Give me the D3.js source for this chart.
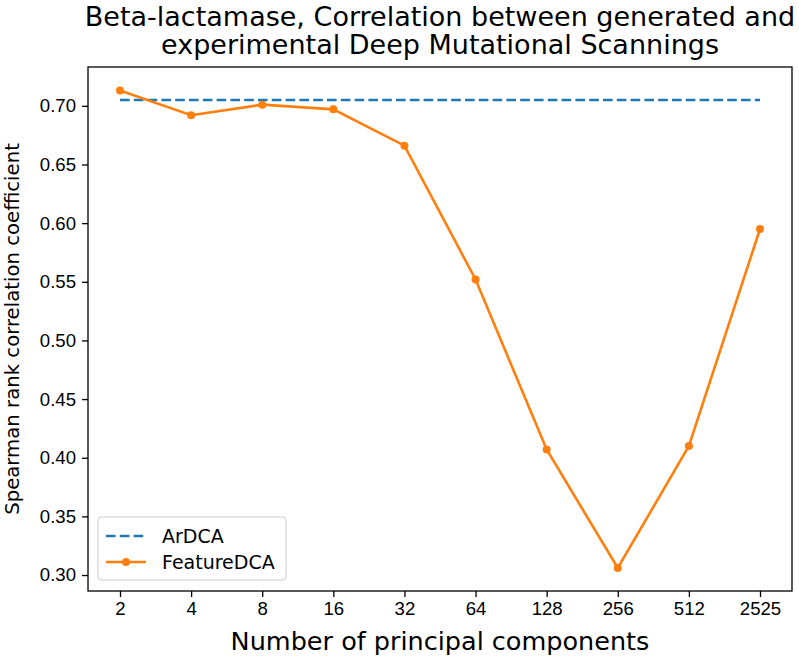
<!DOCTYPE html>
<html>
  <head>
    <meta charset="utf-8">
    <title>Beta-lactamase correlation</title>
    <script src="https://cdn.jsdelivr.net/npm/d3@7"></script>
    <style>
      body { margin: 0; background: #fff; }
      svg { font-family: "DejaVu Sans", sans-serif; }
      .tick text { font-size: 18.6px; fill: #000; }
    </style>
  </head>
  <body>
    <svg width="799" height="663"></svg>
    <script>
      // data
      var components = ["2", "4", "8", "16", "32", "64", "128", "256", "512", "2525"];
      var featureDCA = [0.713, 0.692, 0.701, 0.697, 0.666, 0.552, 0.407, 0.306, 0.410, 0.595];
      var arDCA = 0.705;
      var yTicks = [0.30, 0.35, 0.40, 0.45, 0.50, 0.55, 0.60, 0.65, 0.70];

      var svg = d3.select("svg");
      var m = { left: 88, right: 792, top: 67, bottom: 591 };

      var x = d3.scaleLinear().domain([-0.45, components.length - 1 + 0.45]).range([m.left, m.right]);
      var y = d3.scaleLinear().domain([0.2864, 0.7331]).range([m.bottom, m.top]);

      var xAxis = d3.axisBottom(x)
          .tickValues(d3.range(components.length))
          .tickFormat(function(i) { return components[i]; })
          .tickSize(6).tickPadding(5);
      svg.append("g")
          .attr("transform", "translate(0," + m.bottom + ")")
          .call(xAxis)
          .call(function(g) { g.select(".domain").remove(); });

      var yAxis = d3.axisLeft(y)
          .tickValues(yTicks)
          .tickFormat(d3.format(".2f"))
          .tickSize(6).tickPadding(6);
      svg.append("g")
          .attr("transform", "translate(" + m.left + ",0)")
          .call(yAxis)
          .call(function(g) { g.select(".domain").remove(); });

      svg.selectAll(".tick line").attr("stroke", "#000").attr("stroke-width", 1.3);

      // ArDCA reference line
      svg.append("line")
          .attr("x1", x(0)).attr("x2", x(components.length - 1))
          .attr("y1", y(arDCA)).attr("y2", y(arDCA))
          .attr("stroke", "#1f77b4")
          .attr("stroke-width", 2.6)
          .attr("stroke-dasharray", "9.6,4.2");

      var line = d3.line()
          .x(function(d, i) { return x(i); })
          .y(function(d) { return y(d); });

      svg.append("path")
          .datum(featureDCA)
          .attr("d", line)
          .attr("fill", "none")
          .attr("stroke", "#ff7f0e")
          .attr("stroke-width", 2.6);

      svg.append("g").selectAll("circle")
          .data(featureDCA)
          .enter().append("circle")
            .attr("cx", function(d, i) { return x(i); })
            .attr("cy", function(d) { return y(d); })
            .attr("r", 4)
            .attr("fill", "#ff7f0e");

      // frame
      svg.append("rect")
          .attr("x", m.left).attr("y", m.top)
          .attr("width", m.right - m.left).attr("height", m.bottom - m.top)
          .attr("fill", "none").attr("stroke", "#000").attr("stroke-width", 1.3);

      // legend
      var lg = svg.append("g").attr("transform", "translate(98,517)");
      lg.append("rect")
          .attr("width", 188).attr("height", 63).attr("rx", 3)
          .attr("fill", "#fff").attr("fill-opacity", 0.8)
          .attr("stroke", "#ccc").attr("stroke-width", 1);
      lg.append("line")
          .attr("x1", 8).attr("x2", 48).attr("y1", 19).attr("y2", 19)
          .attr("stroke", "#1f77b4").attr("stroke-width", 2.6)
          .attr("stroke-dasharray", "9.6,4.2");
      lg.append("text").attr("x", 64).attr("y", 26)
          .attr("font-size", 19).text("ArDCA");
      lg.append("line")
          .attr("x1", 8).attr("x2", 48).attr("y1", 45).attr("y2", 45)
          .attr("stroke", "#ff7f0e").attr("stroke-width", 2.6);
      lg.append("circle").attr("cx", 28).attr("cy", 45).attr("r", 4).attr("fill", "#ff7f0e");
      lg.append("text").attr("x", 64).attr("y", 52)
          .attr("font-size", 19).text("FeatureDCA");

      // titles
      var title = svg.append("text")
          .attr("text-anchor", "middle")
          .attr("font-size", 27);
      title.append("tspan").attr("x", (m.left + m.right) / 2).attr("y", 26)
          .text("Beta-lactamase, Correlation between generated and");
      title.append("tspan").attr("x", (m.left + m.right) / 2).attr("y", 54)
          .text("experimental Deep Mutational Scannings");

      svg.append("text")
          .attr("x", (m.left + m.right) / 2).attr("y", 650)
          .attr("text-anchor", "middle")
          .attr("font-size", 25.5)
          .text("Number of principal components");

      svg.append("text")
          .attr("transform", "translate(19," + (m.top + m.bottom) / 2 + ") rotate(-90)")
          .attr("text-anchor", "middle")
          .attr("font-size", 19.7)
          .text("Spearman rank correlation coefficient");
    </script>
  </body>
</html>
